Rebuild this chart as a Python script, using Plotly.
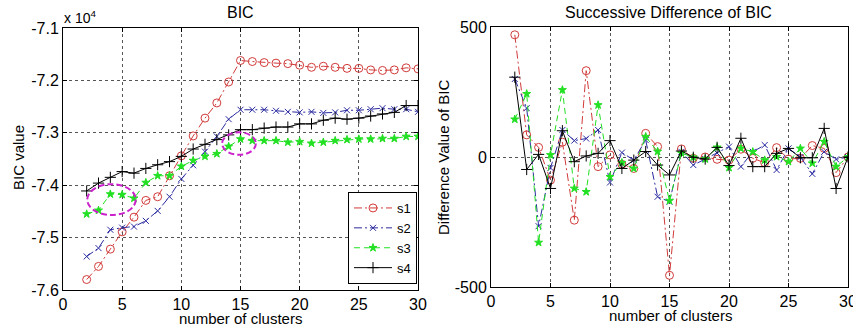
import plotly.graph_objects as go

# ---------------- data ----------------
clusters = list(range(2, 31))

# BIC values (x 10^4)
bic_s1 = [-7.580, -7.555, -7.522, -7.489, -7.461, -7.429, -7.422, -7.382, -7.344, -7.306,
          -7.272, -7.243, -7.203, -7.162, -7.164, -7.166, -7.167, -7.168, -7.171, -7.175,
          -7.173, -7.175, -7.177, -7.177, -7.180, -7.181, -7.180, -7.176, -7.178]
bic_s2 = [-7.536, -7.520, -7.485, -7.481, -7.479, -7.468, -7.449, -7.422, -7.388, -7.362,
          -7.336, -7.307, -7.274, -7.256, -7.256, -7.256, -7.258, -7.260, -7.261, -7.260,
          -7.262, -7.261, -7.257, -7.257, -7.255, -7.253, -7.255, -7.255, -7.260]
bic_s3 = [-7.455, -7.448, -7.417, -7.418, -7.425, -7.395, -7.382, -7.382, -7.364, -7.353,
          -7.345, -7.340, -7.326, -7.312, -7.315, -7.315, -7.315, -7.318, -7.317, -7.320,
          -7.318, -7.315, -7.313, -7.312, -7.312, -7.311, -7.311, -7.307, -7.307]
bic_s4 = [-7.411, -7.396, -7.385, -7.374, -7.377, -7.368, -7.361, -7.355, -7.345, -7.331,
          -7.322, -7.313, -7.304, -7.294, -7.294, -7.291, -7.289, -7.289, -7.283, -7.283,
          -7.276, -7.272, -7.274, -7.272, -7.268, -7.264, -7.261, -7.248, -7.248]

# Successive differences of BIC
diff_s1 = [470, 85, 37, -89, 57, -243, 332, -37, 8, -28, -44, 91, 40, -455, 31, -5, 0, -9,
           -12, 30, -5, -22, 36, -8, -5, 44, 33, -60, 0]
diff_s2 = [300, 188, -266, -42, 104, 63, 71, 104, -98, 17, -12, 65, -153, -172, 20, -31, -8,
           15, 40, -37, 20, 46, -50, 33, 0, -65, 20, -9, 0]
diff_s3 = [145, 243, -329, 8, 258, -121, -134, 200, -76, -22, -44, 78, 21, -168, 15, -1, -8,
           37, -41, 33, 20, -12, 1, -18, 33, -24, 59, -37, 0]
diff_s4 = [307, -48, 10, -121, 101, -18, 4, 14, 63, -44, -12, 21, -31, -69, 23, -1, -8, 37,
           -33, 72, -37, -37, 14, 33, -3, -3, 110, -121, 0]

series_names = ["s1", "s2", "s3", "s4"]
x_ticks = [0, 5, 10, 15, 20, 25, 30]
bic_ticks = [-7.6, -7.5, -7.4, -7.3, -7.2, -7.1]
diff_ticks = [-500, 0, 500]

# highlight ellipses (x0, x1, y0, y1) in data units of the BIC panel
ellipses = [(2.05, 6.15, -7.457, -7.398), (13.45, 16.3, -7.342, -7.299)]

# ---------------- styling ----------------
W, H = 853, 329


def px(x):
    return x / W


def py(y):
    return 1 - y / H


FONT = "Arial, Liberation Sans, sans-serif"
colors = ["#d23a3a", "#2a2aa0", "#22e022", "#000000"]
dashes = ["8px,3px,2px,3px", "8px,3px,2px,3px", "6px,4px", "solid"]
symbols = ["circle-open", "x-thin-open", "star", "cross-thin-open"]
sizes = [8, 6, 6, 8]

fig = go.Figure()

bic_data = [bic_s1, bic_s2, bic_s3, bic_s4]
diff_data = [diff_s1, diff_s2, diff_s3, diff_s4]

for i in range(4):
    fig.add_trace(go.Scatter(
        x=clusters, y=bic_data[i], name=series_names[i], mode="lines+markers",
        line=dict(color=colors[i], width=1, dash=dashes[i]),
        marker=dict(symbol=symbols[i], size=sizes[i], color=colors[i],
                    line=dict(color=colors[i], width=1)),
        xaxis="x", yaxis="y", showlegend=True))
for i in range(4):
    fig.add_trace(go.Scatter(
        x=clusters, y=diff_data[i], name=series_names[i], mode="lines+markers",
        line=dict(color=colors[i], width=1, dash=dashes[i]),
        marker=dict(symbol=symbols[i], size=sizes[i], color=colors[i],
                    line=dict(color=colors[i], width=1)),
        xaxis="x2", yaxis="y2", showlegend=False))

axis_common = dict(
    showline=True, linecolor="black", linewidth=1, mirror="ticks",
    ticks="inside", ticklen=4, tickcolor="black",
    showgrid=True, gridcolor="#555555", griddash="dot", gridwidth=1,
    zeroline=False, automargin=False, ticklabeloverflow="allow",
    tickfont=dict(family=FONT, size=16, color="black"),
)

fig.update_layout(
    width=W, height=H, margin=dict(l=0, r=0, t=0, b=0),
    paper_bgcolor="white", plot_bgcolor="white",
    font=dict(family=FONT, size=13, color="black"),
    xaxis=dict(domain=[px(63), px(418)], range=[0, 30], tickvals=x_ticks,
               anchor="y", **axis_common),
    yaxis=dict(domain=[py(290), py(28)], range=[-7.6, -7.1], tickvals=bic_ticks,
               ticktext=[f"{v:.1f}" for v in bic_ticks],
               anchor="x", **axis_common),
    xaxis2=dict(domain=[px(491), px(848)], range=[0, 30], tickvals=x_ticks,
                anchor="y2", **axis_common),
    yaxis2=dict(domain=[py(287), py(27)], range=[-500, 500], tickvals=diff_ticks,
                ticktext=[str(v) for v in diff_ticks],
                anchor="x2", **axis_common),
    legend=dict(x=px(417), xanchor="right", y=py(284), yanchor="bottom",
                bgcolor="white", bordercolor="black", borderwidth=1,
                font=dict(family=FONT, size=13), tracegroupgap=0,
                itemwidth=38),
    showlegend=True,
)

for (x0, x1, y0, y1) in ellipses:
    fig.add_shape(type="circle", xref="x", yref="y", x0=x0, x1=x1, y0=y0, y1=y1,
                  line=dict(color="#cc22cc", width=2, dash="6px,3px"))


def label(text, x, y, size, angle=0, xanchor="center"):
    fig.add_annotation(text=text, x=px(x), y=py(y), xref="paper", yref="paper",
                       showarrow=False, font=dict(size=size), textangle=angle,
                       xanchor=xanchor, yanchor="middle")


label("BIC", 240, 12, 16)
label("Successive Difference of BIC", 668, 12, 16)
label("number of clusters", 240, 318, 15)
label("number of clusters", 670, 315, 15)
label("BIC value", 18, 158, 15, -90)
label("Difference Value of BIC", 443, 157, 15, -90)
label("x 10<sup>4</sup>", 62, 17, 14, xanchor="left")

# remove the browser's default page margin so the figure sits at the window's corner
fig.write_html("out.html",
               config={"displayModeBar": False},
               post_script="document.body.style.margin='0';"
                           "document.documentElement.style.overflow='hidden';")
